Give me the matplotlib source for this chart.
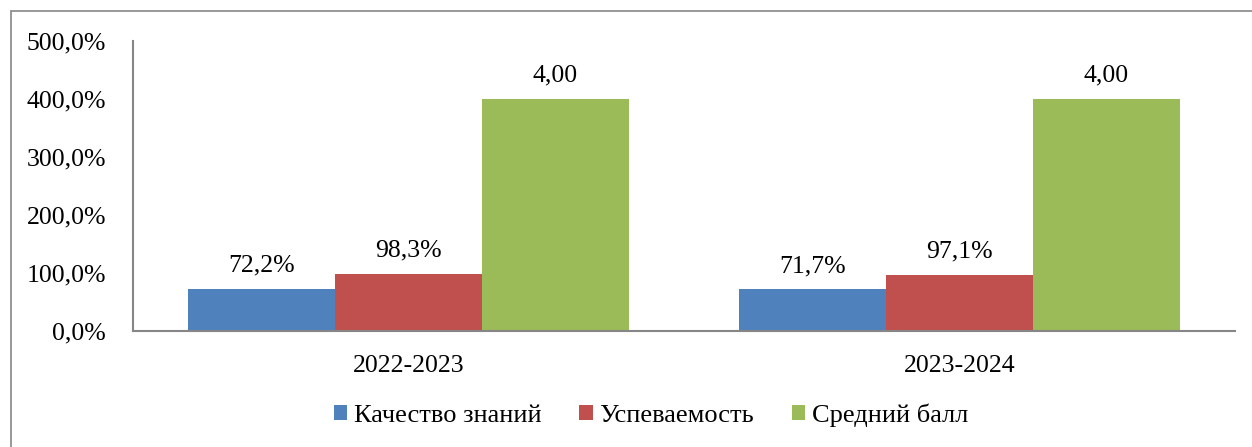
import matplotlib.pyplot as plt
import matplotlib.patches as mpatches
import numpy as np

plt.rcParams['font.family'] = ['Liberation Serif', 'DejaVu Serif']

years = ["2022-2023", "2023-2024"]
series = ["Качество знаний", "Успеваемость", "Средний балл"]
quality = [0.722, 0.717]
progress = [0.983, 0.971]
avg_score = [4.00, 4.00]
labels_quality = ["72,2%", "71,7%"]
labels_progress = ["98,3%", "97,1%"]
labels_avg = ["4,00", "4,00"]
colors = ["#4F81BD", "#C0504D", "#9BBB59"]

FS = 18.5

fig = plt.figure(figsize=(12.52, 4.47), dpi=100)
ax = fig.add_axes([133/1252, 1 - 331/447, (1235 - 133)/1252, (331 - 41)/447])

x = np.arange(len(years))
w = 0.8 / 3
data = [quality, progress, avg_score]
texts = [labels_quality, labels_progress, labels_avg]
for k, (vals, lab, c, name) in enumerate(zip(data, texts, colors, series)):
    bars = ax.bar(x + (k - 1) * w, vals, width=w, color=c, label=name)
    for b, t in zip(bars, lab):
        ax.annotate(t, (b.get_x() + b.get_width() / 2, b.get_height()),
                    xytext=(0, 12.5), textcoords="offset points",
                    ha="center", va="baseline", fontsize=FS)

ax.set_xlim(-0.5, 1.5)
ax.set_ylim(0, 5)
ax.set_yticks([0, 1, 2, 3, 4, 5])
ax.set_yticklabels([f"{v*100:.1f}%".replace(".", ",") for v in range(6)])
ax.set_xticks(x)
ax.set_xticklabels(years)
ax.tick_params(axis="y", length=0, pad=19.5, labelsize=FS)
ax.tick_params(axis="x", length=0, pad=17.5, labelsize=FS)
for s in ["top", "right"]:
    ax.spines[s].set_visible(False)
for s in ["left", "bottom"]:
    ax.spines[s].set_color("#868686")
    ax.spines[s].set_linewidth(1.5)

fig.legend(loc="center", bbox_to_anchor=(651/1252, 1 - 415/447), ncol=3,
           frameon=False, fontsize=19, handlelength=0.5, handleheight=0.5,
           handletextpad=0.25, columnspacing=1.45, borderpad=0)

# outer chart frame
fig.add_artist(mpatches.Rectangle((11/1252, -0.1), 1.1, 1 - 11/447 + 0.1,
                                  transform=fig.transFigure, fill=False,
                                  edgecolor="#868686", linewidth=1.2))

fig.savefig("out.png", dpi=100)
